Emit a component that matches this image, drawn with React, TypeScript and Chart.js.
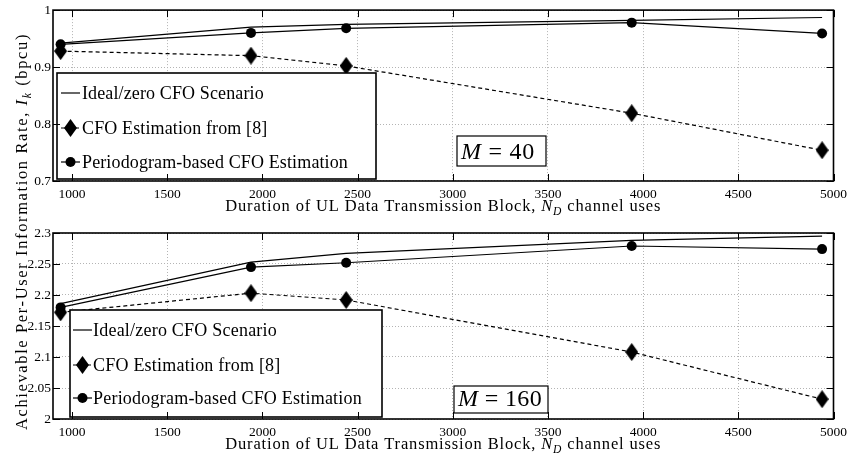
import React, { useEffect, useRef } from "react";
import { Chart, registerables } from "chart.js";

Chart.register(...registerables);

const FONT = '"Liberation Serif", "DejaVu Serif", serif';

// ---------- data ----------
const xValues = [940, 1940, 2440, 3940, 4940];
const xTicks = [1000, 1500, 2000, 2500, 3000, 3500, 4000, 4500, 5000];

const ideal40 = [0.942, 0.97, 0.975, 0.982, 0.987];
const cfo40 = [0.928, 0.92, 0.902, 0.819, 0.754];
const period40 = [0.94, 0.96, 0.968, 0.978, 0.959];
const yTicks40 = [0.7, 0.8, 0.9, 1];

const ideal160 = [2.186, 2.253, 2.267, 2.288, 2.295];
const cfo160 = [2.172, 2.203, 2.192, 2.108, 2.032];
const period160 = [2.18, 2.245, 2.252, 2.279, 2.274];
const yTicks160 = [2, 2.05, 2.1, 2.15, 2.2, 2.25, 2.3];

const seriesLabels = [
  "Ideal/zero CFO Scenario",
  "CFO Estimation from [8]",
  "Periodogram-based CFO Estimation",
];
const mValues = ["40", "160"];

type Seg = { t: string; italic?: boolean; sub?: boolean };
const xTitleSegs: Seg[] = [
  { t: "Duration of UL Data Transmission Block, " },
  { t: "N", italic: true },
  { t: "D", italic: true, sub: true },
  { t: " channel uses" },
];
const yTitleSegs: Seg[] = [
  { t: "Achievable Per-User Information Rate, " },
  { t: "I", italic: true },
  { t: "k", italic: true, sub: true },
  { t: " (bpcu)" },
];

// ---------- layout ----------
const W = 852;
const H = 456;
const PLOT_LEFT = 53;
const PLOT_RIGHT = 836;
const X_MIN = 900;
const X_MAX = 5000;
const XAXIS_H = 22;
const TICK_SIZE = 13.5;
const TITLE_SIZE = 16.5;
const LEGEND_SIZE = 18;
const NOTE_SIZE = 24;

const panels = [
  {
    top: 10,
    bottom: 181,
    yMin: 0.7,
    yMax: 1,
    yTicks: yTicks40,
    series: [ideal40, cfo40, period40],
    m: mValues[0],
    legend: { x: 57, y: 73, w: 319, h: 106, rows: [93, 128, 162], lx0: 61, lx1: 80, tx: 82, tw: 266 },
    note: { x: 457, y: 136, w: 89, h: 30, tx: 461, tw: 74, base: 159 },
    titleBase: 211,
    yTitle: false,
  },
  {
    top: 233,
    bottom: 419,
    yMin: 2,
    yMax: 2.3,
    yTicks: yTicks160,
    series: [ideal160, cfo160, period160],
    m: mValues[1],
    legend: { x: 70, y: 310, w: 312, h: 107, rows: [330, 365, 398], lx0: 73, lx1: 92, tx: 93, tw: 269 },
    note: { x: 454, y: 386, w: 94, h: 27, tx: 458, tw: 84, base: 406 },
    titleBase: 449,
    yTitle: true,
  },
];

function fontStr(size: number, italic?: boolean) {
  return `${italic ? "italic " : ""}${size}px ${FONT}`;
}

function drawRich(
  ctx: CanvasRenderingContext2D,
  segs: Seg[],
  x: number,
  y: number,
  size: number,
  targetW: number,
  align: "left" | "center"
) {
  ctx.save();
  ctx.textBaseline = "alphabetic";
  ctx.textAlign = "left";
  ctx.fillStyle = "#000";
  (ctx as any).letterSpacing = "0px";
  const parts = segs.map((s) => {
    const sz = s.sub ? size * 0.7 : size;
    ctx.font = fontStr(sz, s.italic);
    return { ...s, sz, w: ctx.measureText(s.t).width };
  });
  const natural = parts.reduce((a, p) => a + p.w, 0);
  const n = parts.reduce((a, p) => a + p.t.length, 0);
  const sp = targetW ? (targetW - natural) / n : 0;
  let cx = align === "center" ? x - (natural + sp * n) / 2 : x;
  for (const p of parts) {
    ctx.font = fontStr(p.sz, p.italic);
    (ctx as any).letterSpacing = `${sp}px`;
    ctx.fillText(p.t, cx, y + (p.sub ? size * 0.25 : 0));
    cx += p.w + sp * p.t.length;
  }
  ctx.restore();
}

const DW = 13;
const DH = 18;

function makeDiamond(w: number, h: number) {
  const c = document.createElement("canvas");
  c.width = w;
  c.height = h;
  const g = c.getContext("2d")!;
  g.fillStyle = "#000";
  g.beginPath();
  g.moveTo(w / 2, 0);
  g.lineTo(w, h / 2);
  g.lineTo(w / 2, h);
  g.lineTo(0, h / 2);
  g.closePath();
  g.fill();
  return c;
}

const DASH = [4, 3];

function drawMarker(ctx: CanvasRenderingContext2D, kind: number, x: number, y: number) {
  ctx.save();
  ctx.fillStyle = "#000";
  if (kind === 1) {
    ctx.beginPath();
    ctx.moveTo(x, y - DH / 2);
    ctx.lineTo(x + DW / 2, y);
    ctx.lineTo(x, y + DH / 2);
    ctx.lineTo(x - DW / 2, y);
    ctx.closePath();
    ctx.fill();
  } else if (kind === 2) {
    ctx.beginPath();
    ctx.arc(x, y, 5, 0, Math.PI * 2);
    ctx.fill();
  }
  ctx.restore();
}

function makePlugin(p: (typeof panels)[number]) {
  return {
    id: "decor",
    afterDatasetsDraw(chart: any) {
      const ctx: CanvasRenderingContext2D = chart.ctx;
      // legend
      const L = p.legend;
      ctx.save();
      ctx.fillStyle = "#fff";
      ctx.fillRect(L.x, L.y, L.w, L.h);
      ctx.strokeStyle = "#000";
      ctx.lineWidth = 1.6;
      ctx.strokeRect(L.x, L.y, L.w, L.h);
      ctx.font = fontStr(LEGEND_SIZE);
      const nat = ctx.measureText(seriesLabels[2]).width;
      const sp = (L.tw - nat) / seriesLabels[2].length;
      seriesLabels.forEach((label, i) => {
        const ry = L.rows[i];
        ctx.save();
        ctx.strokeStyle = "#000";
        ctx.lineWidth = 1.2;
        ctx.setLineDash(i === 1 ? DASH : []);
        ctx.beginPath();
        ctx.moveTo(L.lx0, ry);
        ctx.lineTo(L.lx1, ry);
        ctx.stroke();
        ctx.restore();
        drawMarker(ctx, i, (L.lx0 + L.lx1) / 2, ry);
        ctx.font = fontStr(LEGEND_SIZE);
        const natI = ctx.measureText(label).width;
        drawRich(ctx, [{ t: label }], L.tx, ry + 6, LEGEND_SIZE, natI + sp * label.length, "left");
      });
      ctx.restore();

      // M = .. note
      const N = p.note;
      ctx.save();
      ctx.fillStyle = "#fff";
      ctx.fillRect(N.x, N.y, N.w, N.h);
      ctx.strokeStyle = "#000";
      ctx.lineWidth = 1.2;
      ctx.strokeRect(N.x, N.y, N.w, N.h);
      ctx.restore();
      drawRich(
        ctx,
        [{ t: "M", italic: true }, { t: " = " + p.m }],
        N.tx,
        N.base,
        NOTE_SIZE,
        N.tw,
        "left"
      );
    },
    afterDraw(chart: any) {
      const ctx: CanvasRenderingContext2D = chart.ctx;
      const a = chart.chartArea;
      const xs = chart.scales.x;
      const ys = chart.scales.y;
      ctx.save();
      ctx.strokeStyle = "#000";
      ctx.lineWidth = 1;
      const TL = 7;
      ctx.beginPath();
      for (const v of xTicks) {
        const px = Math.round(xs.getPixelForValue(v)) + 0.5;
        ctx.moveTo(px, a.bottom);
        ctx.lineTo(px, a.bottom - TL);
        ctx.moveTo(px, a.top);
        ctx.lineTo(px, a.top + TL);
      }
      for (const v of p.yTicks) {
        const py = Math.round(ys.getPixelForValue(v)) + 0.5;
        ctx.moveTo(a.left, py);
        ctx.lineTo(a.left + TL, py);
        ctx.moveTo(a.right, py);
        ctx.lineTo(a.right - TL, py);
      }
      ctx.stroke();
      ctx.lineWidth = 1.6;
      ctx.strokeRect(a.left, a.top, a.right - a.left, a.bottom - a.top);
      ctx.restore();

      drawRich(ctx, xTitleSegs, (a.left + a.right) / 2, p.titleBase, TITLE_SIZE, 436, "center");

      if (p.yTitle) {
        ctx.save();
        ctx.translate(27, 231.5);
        ctx.rotate(-Math.PI / 2);
        drawRich(ctx, yTitleSegs, 0, 0, TITLE_SIZE, 397, "center");
        ctx.restore();
      }
    },
  };
}

function makeConfig(p: (typeof panels)[number], diamond: HTMLCanvasElement): any {
  const pts = (arr: number[]) => xValues.map((x, i) => ({ x, y: arr[i] }));
  const [ideal, cfo, period] = p.series;
  return {
    type: "line",
    data: {
      datasets: [
        {
          label: seriesLabels[0],
          data: pts(ideal),
          borderColor: "#000",
          borderWidth: 1.2,
          pointRadius: 0,
          fill: false,
          tension: 0,
        },
        {
          label: seriesLabels[1],
          data: pts(cfo),
          borderColor: "#000",
          borderWidth: 1.2,
          borderDash: DASH,
          pointStyle: diamond,
          pointRadius: 8,
          fill: false,
          tension: 0,
        },
        {
          label: seriesLabels[2],
          data: pts(period),
          borderColor: "#000",
          borderWidth: 1.2,
          pointStyle: "circle",
          pointRadius: 5,
          pointBorderWidth: 0,
          pointBackgroundColor: "#000",
          pointBorderColor: "#000",
          fill: false,
          tension: 0,
        },
      ],
    },
    options: {
      animation: false,
      responsive: false,
      events: [],
      clip: false,
      layout: {
        padding: {
          top: p.top,
          bottom: H - p.bottom - XAXIS_H,
          left: 0,
          right: W - PLOT_RIGHT,
        },
      },
      plugins: {
        legend: { display: false },
        tooltip: { enabled: false },
        title: { display: false },
      },
      scales: {
        x: {
          type: "linear",
          min: X_MIN,
          max: X_MAX,
          afterBuildTicks: (s: any) => {
            s.ticks = xTicks.map((v) => ({ value: v }));
          },
          afterFit: (s: any) => {
            s.height = XAXIS_H;
          },
          grid: { color: "#b4b4b4", lineWidth: 1, drawTicks: false },
          border: { display: false, dash: [1, 2] },
          ticks: {
            color: "#000",
            font: { family: FONT, size: TICK_SIZE },
            padding: 5,
            maxRotation: 0,
            autoSkip: false,
            callback: (v: any) => String(v),
          },
        },
        y: {
          type: "linear",
          min: p.yMin,
          max: p.yMax,
          afterBuildTicks: (s: any) => {
            s.ticks = p.yTicks.map((v) => ({ value: v }));
          },
          afterFit: (s: any) => {
            s.width = PLOT_LEFT;
          },
          grid: { color: "#b4b4b4", lineWidth: 1, drawTicks: false },
          border: { display: false, dash: [1, 2] },
          ticks: {
            color: "#000",
            font: { family: FONT, size: TICK_SIZE },
            padding: 2,
            autoSkip: false,
            callback: (v: any) => String(+Number(v).toFixed(2)),
          },
        },
      },
    },
    plugins: [makePlugin(p)],
  };
}

export default function App() {
  const ref1 = useRef<HTMLCanvasElement>(null);
  const ref2 = useRef<HTMLCanvasElement>(null);

  useEffect(() => {
    const diamond = makeDiamond(DW, DH);
    const charts: Chart[] = [];
    [ref1, ref2].forEach((r, i) => {
      if (r.current) charts.push(new Chart(r.current, makeConfig(panels[i], diamond)));
    });
    return () => charts.forEach((c) => c.destroy());
  }, []);

  const cstyle: React.CSSProperties = { position: "absolute", left: 0, top: 0, width: W, height: H };
  return (
    <div style={{ position: "fixed", left: 0, top: 0, width: W, height: H, background: "#fff" }}>
      <canvas ref={ref1} width={W} height={H} style={cstyle} />
      <canvas ref={ref2} width={W} height={H} style={cstyle} />
    </div>
  );
}
